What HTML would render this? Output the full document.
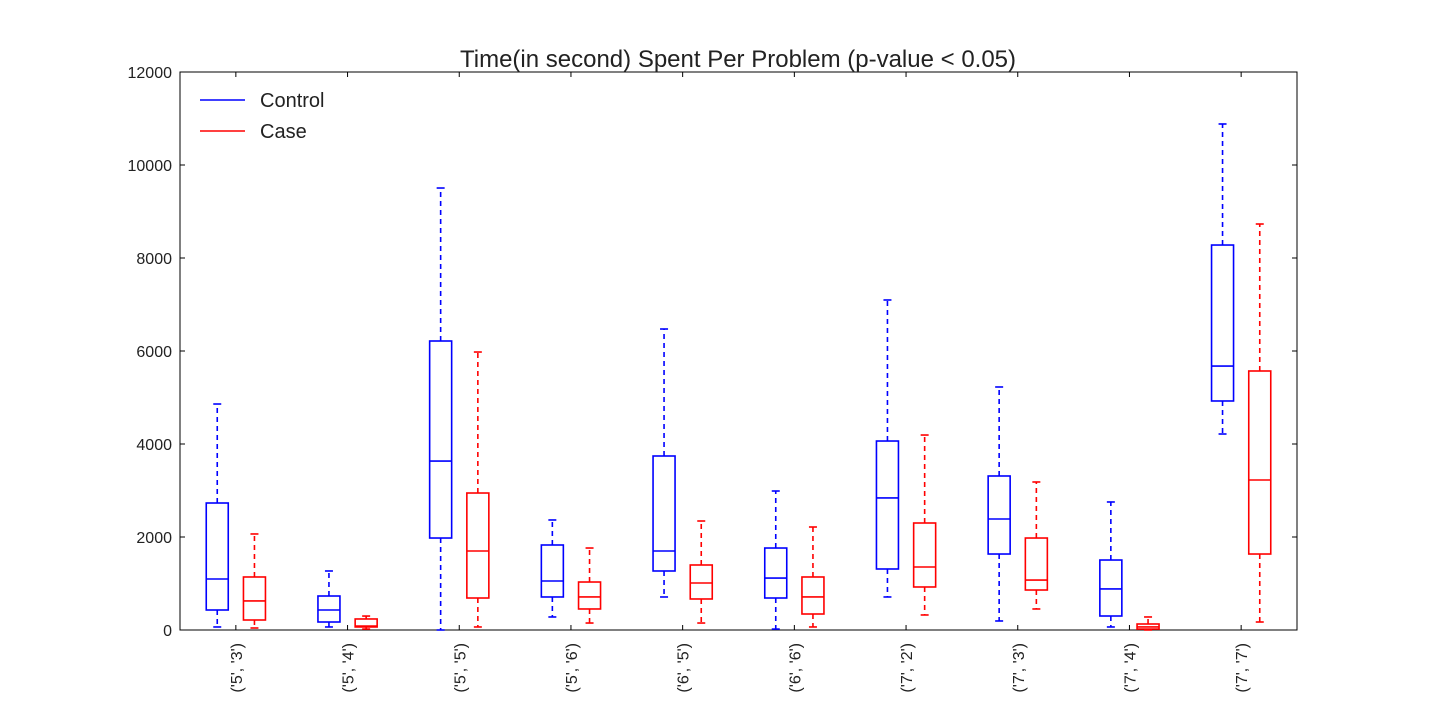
<!DOCTYPE html>
<html><head><meta charset="utf-8"><style>
body{margin:0;background:#fff;}
svg{font-family:"Liberation Sans",sans-serif;}
</style></head><body>
<svg id="chart" width="1440" height="720"></svg>
<script>
const categories=["('5', '3')","('5', '4')","('5', '5')","('5', '6')","('6', '5')","('6', '6')","('7', '2')","('7', '3')","('7', '4')","('7', '7')"];
// [low, q1, median, q3, high]
const controlStats=[[65,430,1097,2731,4860],[65,172,430,731,1269],[0,1978,3634,6215,9505],[280,710,1054,1828,2366],[710,1269,1699,3742,6473],[20,688,1118,1763,2989],[710,1312,2839,4064,7097],[194,1634,2387,3312,5226],[65,301,882,1505,2753],[4215,4925,5677,8279,10882]];
const caseStats=[[43,215,624,1140,2065],[20,65,86,237,300],[65,688,1699,2946,5978],[150,452,710,1032,1763],[150,667,1011,1398,2344],[65,344,710,1140,2215],[323,925,1355,2301,4193],[452,860,1075,1978,3183],[0,20,65,129,280],[172,1634,3226,5570,8731]];
const yTicks=[0,2000,4000,6000,8000,10000,12000];
const X0=180,X1=1297,Y0=630,Y1=72;
const ns="http://www.w3.org/2000/svg";
const svg=document.getElementById('chart');
const y=v=>Y0-(v/12000)*(Y0-Y1);
const step=(X1-X0)/categories.length;
const xc=i=>X0+step*(i+0.5);
function mk(t,a,p){const e=document.createElementNS(ns,t);for(const k in a)e.setAttribute(k,a[k]);(p||svg).appendChild(e);return e;}
const frame=mk('rect',{x:X0,y:Y1,width:X1-X0,height:Y0-Y1,fill:'none',stroke:'#000','stroke-width':1});


yTicks.forEach(v=>{
  mk('line',{x1:X0,x2:X0+5,y1:y(v),y2:y(v),stroke:'#000'});
  mk('line',{x1:X1,x2:X1-5,y1:y(v),y2:y(v),stroke:'#000'});
  const t=mk('text',{x:X0-8,y:y(v)+6,'text-anchor':'end','font-size':16,fill:'#222'});
  t.textContent=v;
  
  
});
categories.forEach((c,i)=>{
  const cx=xc(i);
  mk('line',{x1:cx,x2:cx,y1:Y0,y2:Y0-5,stroke:'#000'});
  mk('line',{x1:cx,x2:cx,y1:Y1,y2:Y1+5,stroke:'#000'});
  const t=mk('text',{x:0,y:0,'text-anchor':'end','font-size':16,fill:'#222',transform:`translate(${cx+6},${Y0+13}) rotate(-90)`});
  t.textContent=c;
  
  
});
function box(s,cx,col,name){
  const g=mk('g',{stroke:col,'stroke-width':1.6,fill:'none'});
  
  
  const w=11;
  mk('line',{x1:cx,x2:cx,y1:y(s[3]),y2:y(s[4]),'stroke-dasharray':'5,4'},g);
  mk('line',{x1:cx,x2:cx,y1:y(s[1]),y2:y(s[0]),'stroke-dasharray':'5,4'},g);
  mk('line',{x1:cx-4,x2:cx+4,y1:y(s[4]),y2:y(s[4])},g);
  mk('line',{x1:cx-4,x2:cx+4,y1:y(s[0]),y2:y(s[0])},g);
  mk('rect',{x:cx-w,y:y(s[3]),width:2*w,height:y(s[1])-y(s[3])},g);
  mk('line',{x1:cx-w,x2:cx+w,y1:y(s[2]),y2:y(s[2])},g);
}
categories.forEach((c,i)=>{
  box(controlStats[i],xc(i)-18.6,'#0000ff','control-box');
  box(caseStats[i],xc(i)+18.6,'#ff0000','case-box');
});
const title=mk('text',{x:738,y:67,'text-anchor':'middle','font-size':24,fill:'#222'});
title.textContent='Time(in second) Spent Per Problem (p-value < 0.05)';


[['Control','#0000ff',100],['Case','#ff0000',131]].forEach(([l,c,yy])=>{
  const g=mk('g',{});
  
  
  mk('line',{x1:200,x2:245,y1:yy,y2:yy,stroke:c,'stroke-width':1.6},g);
  const t=mk('text',{x:260,y:yy+7,'font-size':20,fill:'#222'},g);
  t.textContent=l;
});
</script>
</body></html>
